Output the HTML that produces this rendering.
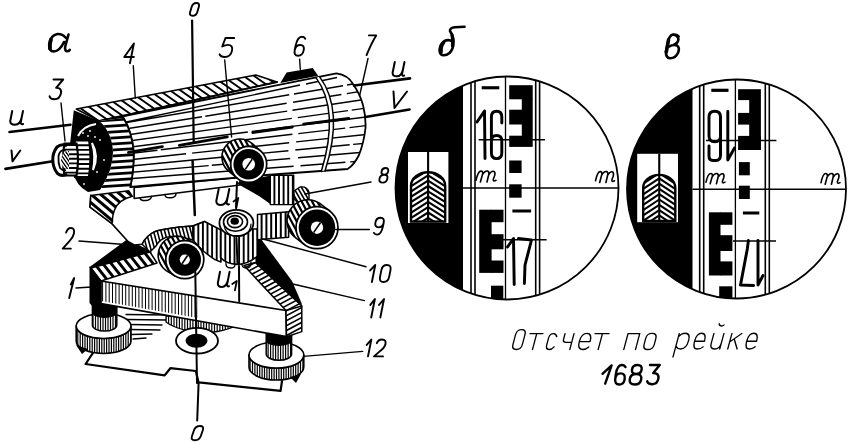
<!DOCTYPE html>
<html><head><meta charset="utf-8"><style>
html,body{margin:0;padding:0;background:#fff;width:850px;height:443px;overflow:hidden;font-family:"Liberation Sans",sans-serif}
svg{display:block}
</style></head><body>
<svg width="850" height="443" viewBox="0 0 850 443">
<rect width="850" height="443" fill="#fff"/>
<clipPath id="clip507"><circle cx="507" cy="188" r="111.5"/></clipPath>
<g clip-path="url(#clip507)">
<rect x="393.5" y="74.5" width="69.5" height="227.0" fill="#000"/>
<rect x="408" y="152" width="40.39999999999998" height="71" fill="#fff"/>
<line x1="428.1" y1="152" x2="428.1" y2="221.6" stroke="#000" stroke-width="2.1"/>
<clipPath id="bul507"><path d="M411,221.6 L411,185.9 A17.099999999999994,13.679999999999996 0 0 1 445.2,185.9 L445.2,221.6 Z"/></clipPath>
<g clip-path="url(#bul507)" stroke="#000" stroke-width="2.1">
<line x1="428.1" y1="164.8" x2="409" y2="176.8"/>
<line x1="428.1" y1="164.8" x2="447.2" y2="176.8"/>
<line x1="428.1" y1="170.10000000000002" x2="409" y2="182.10000000000002"/>
<line x1="428.1" y1="170.10000000000002" x2="447.2" y2="182.10000000000002"/>
<line x1="428.1" y1="175.40000000000003" x2="409" y2="187.40000000000003"/>
<line x1="428.1" y1="175.40000000000003" x2="447.2" y2="187.40000000000003"/>
<line x1="428.1" y1="180.70000000000005" x2="409" y2="192.70000000000005"/>
<line x1="428.1" y1="180.70000000000005" x2="447.2" y2="192.70000000000005"/>
<line x1="428.1" y1="186.00000000000006" x2="409" y2="198.00000000000006"/>
<line x1="428.1" y1="186.00000000000006" x2="447.2" y2="198.00000000000006"/>
<line x1="428.1" y1="191.30000000000007" x2="409" y2="203.30000000000007"/>
<line x1="428.1" y1="191.30000000000007" x2="447.2" y2="203.30000000000007"/>
<line x1="428.1" y1="196.60000000000008" x2="409" y2="208.60000000000008"/>
<line x1="428.1" y1="196.60000000000008" x2="447.2" y2="208.60000000000008"/>
<line x1="428.1" y1="201.9000000000001" x2="409" y2="213.9000000000001"/>
<line x1="428.1" y1="201.9000000000001" x2="447.2" y2="213.9000000000001"/>
<line x1="428.1" y1="207.2000000000001" x2="409" y2="219.2000000000001"/>
<line x1="428.1" y1="207.2000000000001" x2="447.2" y2="219.2000000000001"/>
<line x1="428.1" y1="212.5000000000001" x2="409" y2="224.5000000000001"/>
<line x1="428.1" y1="212.5000000000001" x2="447.2" y2="224.5000000000001"/>
<line x1="428.1" y1="217.80000000000013" x2="409" y2="229.80000000000013"/>
<line x1="428.1" y1="217.80000000000013" x2="447.2" y2="229.80000000000013"/>
<line x1="428.1" y1="223.10000000000014" x2="409" y2="235.10000000000014"/>
<line x1="428.1" y1="223.10000000000014" x2="447.2" y2="235.10000000000014"/>
</g>
<path d="M411,221.6 L411,185.9 A17.099999999999994,13.679999999999996 0 0 1 445.2,185.9 L445.2,221.6 Z" fill="none" stroke="#000" stroke-width="2.4"/>
<g>
</g>
<line x1="411" y1="221.6" x2="445.2" y2="221.6" stroke="#000" stroke-width="1.5"/>
<line x1="471" y1="74.5" x2="471" y2="301.5" stroke="#000" stroke-width="1.6"/>
<line x1="475" y1="74.5" x2="475" y2="301.5" stroke="#000" stroke-width="1.6"/>
<line x1="505.5" y1="74.5" x2="505.5" y2="301.5" stroke="#000" stroke-width="1.3"/>
<line x1="535.7" y1="74.5" x2="535.7" y2="301.5" stroke="#000" stroke-width="1.6"/>
<line x1="539.6" y1="74.5" x2="539.6" y2="301.5" stroke="#000" stroke-width="1.6"/>
<rect x="509.20" y="85.20" width="23.50" height="14.10" fill="#000"/>
<rect x="521.80" y="98.70" width="10.90" height="37.60" fill="#000"/>
<rect x="509.20" y="109.70" width="13.20" height="14.80" fill="#000"/>
<rect x="509.20" y="135.70" width="23.50" height="11.20" fill="#000"/>
<rect x="509.20" y="160.50" width="12.40" height="12.50" fill="#000"/>
<rect x="509.20" y="184.30" width="12.40" height="13.40" fill="#000"/>
<rect x="481.70" y="86.20" width="17.60" height="3.10" fill="#000"/>
<rect x="512.40" y="209.50" width="18.70" height="3.00" fill="#000"/>
<rect x="479.20" y="209.70" width="12.40" height="63.20" fill="#000"/>
<rect x="491.00" y="209.70" width="12.50" height="12.50" fill="#000"/>
<rect x="491.00" y="234.20" width="12.50" height="15.10" fill="#000"/>
<rect x="491.00" y="260.50" width="12.50" height="12.40" fill="#000"/>
<rect x="491.00" y="285.70" width="12.30" height="19.60" fill="#000"/>
<line x1="463" y1="188" x2="620.5" y2="188" stroke="#000" stroke-width="1.4"/>
<line x1="478.7" y1="139.7" x2="545" y2="139.7" stroke="#000" stroke-width="1.4"/>
<line x1="503" y1="239.8" x2="546.6" y2="239.8" stroke="#000" stroke-width="1.4"/>
<g fill="none" stroke="#000" stroke-width="2.95" stroke-linecap="round" stroke-linejoin="round">
<path d="M477,122 L484.5,111 L485,158.5"/>
<path d="M501.8,123 L501.8,117 Q501.8,111.3 496.6,111.3 Q491.4,111.3 491.4,117 L491.4,153 Q491.4,158.6 496.6,158.6 Q501.8,158.6 501.8,153 L501.8,141 Q501.8,135.5 496.6,135.5 Q491.4,135.5 491.4,141"/>
<path d="M507.5,247 L513.5,238.5 L514.2,284.5"/>
<path d="M518.5,238.5 L531.5,240 L525,265 L524.4,283.5"/>
</g>
<path d="M476,180.275 Q478.0,171.075 481.0,171.075 Q483.2,171.075 482.6,173.95 L480.4,182.0 M482.2,175.1 Q485.0,170.5 487.6,171.075 Q489.6,171.88 488.8,174.525 L487.0,182.0 M488.6,175.1 Q491.6,170.5 494.0,171.42 Q495.6,172.57 494.6,175.675 L493.2,179.47 Q493.2,182.0 496,180.275" fill="none" stroke="#000" stroke-width="1.6" stroke-linecap="round" stroke-linejoin="round"/>
<path d="M595.5,180.775 Q597.4,171.575 600.25,171.575 Q602.34,171.575 601.77,174.45 L599.68,182.5 M601.39,175.6 Q604.05,171.0 606.52,171.575 Q608.42,172.38 607.66,175.025 L605.95,182.5 M607.47,175.6 Q610.32,171.0 612.6,171.92 Q614.12,173.07 613.17,176.175 L611.84,179.97 Q611.84,182.5 614.5,180.775" fill="none" stroke="#000" stroke-width="1.6" stroke-linecap="round" stroke-linejoin="round"/>

</g>
<circle cx="507" cy="188" r="111.5" fill="none" stroke="#000" stroke-width="1.8"/>
<clipPath id="clip736"><circle cx="736.5" cy="189" r="109.5"/></clipPath>
<g clip-path="url(#clip736)">
<rect x="625.0" y="77.5" width="67.5" height="223.0" fill="#000"/>
<rect x="637.2" y="153.8" width="40.799999999999955" height="68.39999999999998" fill="#fff"/>
<line x1="659.25" y1="153.8" x2="659.25" y2="221" stroke="#000" stroke-width="2.1"/>
<clipPath id="bul736"><path d="M643.2,221 L643.2,187.74999999999994 A16.049999999999955,12.839999999999964 0 0 1 675.3,187.74999999999994 L675.3,221 Z"/></clipPath>
<g clip-path="url(#bul736)" stroke="#000" stroke-width="2.1">
<line x1="659.25" y1="167.7" x2="641.2" y2="179.7"/>
<line x1="659.25" y1="167.7" x2="677.3" y2="179.7"/>
<line x1="659.25" y1="173.0" x2="641.2" y2="185.0"/>
<line x1="659.25" y1="173.0" x2="677.3" y2="185.0"/>
<line x1="659.25" y1="178.3" x2="641.2" y2="190.3"/>
<line x1="659.25" y1="178.3" x2="677.3" y2="190.3"/>
<line x1="659.25" y1="183.60000000000002" x2="641.2" y2="195.60000000000002"/>
<line x1="659.25" y1="183.60000000000002" x2="677.3" y2="195.60000000000002"/>
<line x1="659.25" y1="188.90000000000003" x2="641.2" y2="200.90000000000003"/>
<line x1="659.25" y1="188.90000000000003" x2="677.3" y2="200.90000000000003"/>
<line x1="659.25" y1="194.20000000000005" x2="641.2" y2="206.20000000000005"/>
<line x1="659.25" y1="194.20000000000005" x2="677.3" y2="206.20000000000005"/>
<line x1="659.25" y1="199.50000000000006" x2="641.2" y2="211.50000000000006"/>
<line x1="659.25" y1="199.50000000000006" x2="677.3" y2="211.50000000000006"/>
<line x1="659.25" y1="204.80000000000007" x2="641.2" y2="216.80000000000007"/>
<line x1="659.25" y1="204.80000000000007" x2="677.3" y2="216.80000000000007"/>
<line x1="659.25" y1="210.10000000000008" x2="641.2" y2="222.10000000000008"/>
<line x1="659.25" y1="210.10000000000008" x2="677.3" y2="222.10000000000008"/>
<line x1="659.25" y1="215.4000000000001" x2="641.2" y2="227.4000000000001"/>
<line x1="659.25" y1="215.4000000000001" x2="677.3" y2="227.4000000000001"/>
<line x1="659.25" y1="220.7000000000001" x2="641.2" y2="232.7000000000001"/>
<line x1="659.25" y1="220.7000000000001" x2="677.3" y2="232.7000000000001"/>
</g>
<path d="M643.2,221 L643.2,187.74999999999994 A16.049999999999955,12.839999999999964 0 0 1 675.3,187.74999999999994 L675.3,221 Z" fill="none" stroke="#000" stroke-width="2.4"/>
<g>
</g>
<line x1="643.2" y1="221" x2="675.3" y2="221" stroke="#000" stroke-width="1.5"/>
<line x1="699.7" y1="77.5" x2="699.7" y2="300.5" stroke="#000" stroke-width="1.6"/>
<line x1="703.7" y1="77.5" x2="703.7" y2="300.5" stroke="#000" stroke-width="1.6"/>
<line x1="735.4" y1="77.5" x2="735.4" y2="300.5" stroke="#000" stroke-width="1.3"/>
<line x1="765.3" y1="77.5" x2="765.3" y2="300.5" stroke="#000" stroke-width="1.6"/>
<line x1="769.3" y1="77.5" x2="769.3" y2="300.5" stroke="#000" stroke-width="1.6"/>
<rect x="738.10" y="89.20" width="22.80" height="10.90" fill="#000"/>
<rect x="749.20" y="99.50" width="11.70" height="50.50" fill="#000"/>
<rect x="738.10" y="112.90" width="11.70" height="11.70" fill="#000"/>
<rect x="738.10" y="135.90" width="22.80" height="14.10" fill="#000"/>
<rect x="738.90" y="162.10" width="10.90" height="13.20" fill="#000"/>
<rect x="738.90" y="185.70" width="10.90" height="13.30" fill="#000"/>
<rect x="711.30" y="88.70" width="17.20" height="3.20" fill="#000"/>
<rect x="742.90" y="211.50" width="16.40" height="3.00" fill="#000"/>
<rect x="708.90" y="212.30" width="11.60" height="63.20" fill="#000"/>
<rect x="719.90" y="212.30" width="12.50" height="12.50" fill="#000"/>
<rect x="719.90" y="235.20" width="12.50" height="15.80" fill="#000"/>
<rect x="719.90" y="261.40" width="12.50" height="14.10" fill="#000"/>
<rect x="719.20" y="286.30" width="13.20" height="19.00" fill="#000"/>
<line x1="692.5" y1="189.3" x2="848.0" y2="189.3" stroke="#000" stroke-width="1.4"/>
<line x1="706" y1="140.5" x2="776.4" y2="140.5" stroke="#000" stroke-width="1.4"/>
<line x1="733" y1="241" x2="776" y2="241" stroke="#000" stroke-width="1.4"/>
<g fill="none" stroke="#000" stroke-width="2.95" stroke-linecap="round" stroke-linejoin="round">
<path d="M709,146 L709,156 Q709,160.5 713,160.5 L716,160.5 Q720.5,160.5 720.5,155 L720.5,117 Q720.5,111.2 714.8,111.2 Q709,111.2 709,117 L709,136 Q709,141.8 714.8,141.8 Q720.5,141.8 720.5,136"/>
<path d="M727.8,111.5 L727.8,160 L734.5,148"/>
<path d="M748.4,240.5 L747.3,249 L740.5,285 L753.6,285.5"/>
<path d="M758,240.5 L758,285 L763,275.5"/>
</g>
<path d="M706,182.18 Q707.9,173.54 710.75,173.54 Q712.84,173.54 712.27,176.24 L710.18,183.8 M711.89,177.32 Q714.55,173.0 717.02,173.54 Q718.92,174.296 718.16,176.78 L716.45,183.8 M717.97,177.32 Q720.82,173.0 723.1,173.864 Q724.62,174.944 723.67,177.86 L722.34,181.424 Q722.34,183.8 725,182.18" fill="none" stroke="#000" stroke-width="1.6" stroke-linecap="round" stroke-linejoin="round"/>
<path d="M821,182.605 Q822.9,173.565 825.75,173.565 Q827.84,173.565 827.27,176.39 L825.18,184.3 M826.89,177.52 Q829.55,173.0 832.02,173.565 Q833.92,174.356 833.16,176.955 L831.45,184.3 M832.97,177.52 Q835.82,173.0 838.1,173.904 Q839.62,175.034 838.67,178.085 L837.34,181.814 Q837.34,184.3 840,182.605" fill="none" stroke="#000" stroke-width="1.6" stroke-linecap="round" stroke-linejoin="round"/>

</g>
<circle cx="736.5" cy="189" r="109.5" fill="none" stroke="#000" stroke-width="1.8"/>
<g transform="translate(0,349.5) skewX(-15) translate(0,-349.5)" fill="none" stroke="#000" stroke-width="1.35" stroke-linecap="round" stroke-linejoin="round">
<path d="M511.6,334.6 Q511.6,329.6 516.3,329.6 Q521,329.6 521,334.6 L521,344.5 Q521,349.5 516.3,349.5 Q511.6,349.5 511.6,344.5 Z"/>
<path d="M525.7,333.6 L538.7,333.6 M532.5,333.6 L532.5,349.5"/>
<path d="M553.3,336.6 Q551.8,333.6 549.2,333.6 Q545.5,333.6 545.5,338 L545.5,345 Q545.5,349.5 549.2,349.5 Q551.8,349.5 553.3,346.8"/>
<path d="M560.8,333.6 L560.8,339.2 Q560.8,342.3 564,342.3 L569.8,342.3 M569.8,333.6 L569.8,349.5"/>
<path d="M577.2,341.6 L588,341.6 Q588,333.4 582.6,333.4 Q577.2,333.4 577.2,341.6 Q577.2,349.5 582.6,349.5 Q586.2,349.5 588,347"/>
<path d="M590.8,333.6 L604.8,333.6 M598.2,333.6 L598.2,349.5"/>
<path d="M623.8,349.5 L623.8,333.6 L635.5,333.6 L635.5,349.5"/>
<path d="M647.8,333.4 Q652.9,333.4 652.9,338.5 L652.9,344.4 Q652.9,349.5 647.8,349.5 Q642.7,349.5 642.7,344.4 L642.7,338.5 Q642.7,333.4 647.8,333.4 Z"/>
<path d="M675,357 L675,333.6 M675,337 Q677,333.2 681,333.2 Q686.2,333.2 686.2,340.5 Q686.2,349 680.5,349 Q677,349 675,346"/>
<path d="M692.4,341.2 L702.3,341.2 Q702.3,333.2 697.3,333.2 Q692.3,333.2 692.3,341.2 Q692.3,349 697.3,349 Q700.6,349 702.3,346.8"/>
<path d="M709.6,333.4 L709.6,343.6 Q709.6,349 714.5,349 Q719.6,349 719.6,343 M719.6,333.4 L719.6,349"/>
<path d="M712.2,323.8 Q714.5,327.5 717.5,325"/>
<path d="M727.6,333.4 L727.6,349 M727.6,342 L737.5,333.4 M731.4,339 L737,349"/>
<path d="M744.5,341.2 L754.4,341.2 Q754.4,333.2 749.4,333.2 Q744.4,333.2 744.4,341.2 Q744.4,349 749.4,349 Q752.6,349 754.4,346.8"/>
</g>
<path d="M602.5,373.8 L611.6,365.4 L605.2,383.6" fill="none" stroke="#000" stroke-width="2.4" stroke-linecap="round" stroke-linejoin="round"/>
<path d="M 625.49,366.95 Q 624.13,365.00 621.77,365.00 Q 617.03,365.00 615.77,374.75 L 615.26,378.65 Q 614.50,384.50 619.23,384.50 Q 623.97,384.50 624.67,379.04 Q 625.41,373.38 620.68,373.38 Q 615.94,373.38 615.26,378.65" fill="none" stroke="#000" stroke-width="2.4" stroke-linecap="round" stroke-linejoin="round"/>
<path d="M 636.21,373.97 Q 631.39,373.97 632.02,369.49 Q 632.65,365.00 637.47,365.00 Q 642.28,365.00 641.65,369.49 Q 641.03,373.97 636.21,373.97 Q 630.47,373.97 629.74,379.24 Q 629.00,384.50 634.74,384.50 Q 640.47,384.50 641.21,379.24 Q 641.94,373.97 636.21,373.97 Z" fill="none" stroke="#000" stroke-width="2.4" stroke-linecap="round" stroke-linejoin="round"/>
<path d="M 650.03,365.00 L 659.76,365.00 L 653.22,373.06 Q 659.17,373.06 658.42,378.44 Q 657.61,384.20 652.21,384.20 Q 648.10,384.20 647.20,381.32" fill="none" stroke="#000" stroke-width="2.4" stroke-linecap="round" stroke-linejoin="round"/>
<path d="M464.5,26.8 L455,27.3 Q449.5,27.8 450,31 Q453.5,36 453.5,42 Q453.5,49 449.5,53 Q446.5,55.5 443,55.2 Q439.3,54.5 439.6,49.5 Q440.3,43.5 444.5,41 Q448.5,39 452.8,41.5" fill="none" stroke="#000" stroke-width="2.6" stroke-linecap="round" stroke-linejoin="round"/>
<path d="M441,52 Q440.6,46 443.5,42.5" fill="none" stroke="#000" stroke-width="3.6" stroke-linecap="round" stroke-linejoin="round"/>
<path d="M452,35 Q453.3,40 452.5,46" fill="none" stroke="#000" stroke-width="3.2" stroke-linecap="round" stroke-linejoin="round"/>
<path d="M678.6,36.5 Q676.5,34.2 673,34.6 Q669.5,35.5 668.2,41 L666,51.5 Q665.6,57.8 670,58.2 Q675.5,58.4 678.2,52.5 Q680,47.5 677,45.5 Q673.5,44 669,46.5 M673,34.6 Q678,35 678.4,39 Q678.5,43 673.5,45" fill="none" stroke="#000" stroke-width="2.6" stroke-linecap="round" stroke-linejoin="round"/>
<path d="M668.5,40 L666.3,52" fill="none" stroke="#000" stroke-width="3.6" stroke-linecap="round" stroke-linejoin="round"/>
<path d="M65.5,37.5 Q62.5,33.8 57.5,34 Q50.5,35 49.2,44.5 Q48.8,51.5 53.8,51.5 Q59.5,51.5 64,42 M68.5,34.5 L65.2,46.5 Q64.5,51.3 67.5,51.3 Q69,51.2 69.8,49.8" fill="none" stroke="#000" stroke-width="2.6" stroke-linecap="round" stroke-linejoin="round"/>
<path d="M51,39.5 Q49.3,44.5 50,48.5" fill="none" stroke="#000" stroke-width="3.8" stroke-linecap="round" stroke-linejoin="round"/>
<path d="M94,351.3 L85.6,364 L164.7,375.3 L170.4,368.2 L195.8,371 L198.6,382.4 L280.6,390.8 L282,381" fill="none" stroke="#000" stroke-width="2.2" stroke-linejoin="round" stroke-linecap="round"/>
<line x1="126" y1="314.5" x2="168" y2="315" stroke="#000" stroke-width="1.3" stroke-linecap="round"/>
<line x1="127" y1="319.5" x2="166" y2="320" stroke="#000" stroke-width="1.3" stroke-linecap="round"/>
<line x1="128" y1="324.5" x2="162" y2="325" stroke="#000" stroke-width="1.3" stroke-linecap="round"/>
<line x1="130" y1="329.5" x2="160" y2="330" stroke="#000" stroke-width="1.3" stroke-linecap="round"/>
<line x1="131" y1="334.5" x2="152" y2="334" stroke="#000" stroke-width="1.3" stroke-linecap="round"/>
<line x1="133" y1="339" x2="146" y2="338" stroke="#000" stroke-width="1.3" stroke-linecap="round"/>
<clipPath id="c1"><path d="M166,316 L242,321 Q232,331 205,333 Q178,331 166,322 Z"/></clipPath>
<path d="M166,316 L242,321 Q232,331 205,333 Q178,331 166,322 Z" fill="#fff"/>
<path clip-path="url(#c1)" d="M249.6,277.9 L249.6,369.1 M246.9,277.9 L246.9,369.1 M244.2,277.9 L244.2,369.1 M241.5,277.9 L241.5,369.1 M238.8,277.9 L238.8,369.1 M236.1,277.9 L236.1,369.1 M233.4,277.9 L233.4,369.1 M230.7,277.9 L230.7,369.1 M228.0,277.9 L228.0,369.1 M225.3,277.9 L225.3,369.1 M222.6,277.9 L222.6,369.1 M219.9,277.9 L219.9,369.1 M217.2,277.9 L217.2,369.1 M214.5,277.9 L214.5,369.1 M211.8,277.9 L211.8,369.1 M209.1,277.9 L209.1,369.1 M206.4,277.9 L206.4,369.1 M203.7,277.9 L203.7,369.1 M201.0,277.9 L201.0,369.1 M198.3,277.9 L198.3,369.1 M195.6,277.9 L195.6,369.1 M192.9,277.9 L192.9,369.1 M190.2,277.9 L190.2,369.1 M187.5,277.9 L187.5,369.1 M184.8,277.9 L184.8,369.1 M182.1,277.9 L182.1,369.1 M179.4,277.9 L179.4,369.1 M176.7,277.9 L176.7,369.1 M174.0,277.9 L174.0,369.1 M171.3,277.9 L171.3,369.1 M168.6,277.9 L168.6,369.1 M165.9,277.9 L165.9,369.1 M163.2,277.9 L163.2,369.1 M160.5,277.9 L160.5,369.1" stroke="#000" stroke-width="1.2" fill="none"/>
<path d="M166,316 L242,321 Q232,331 205,333 Q178,331 166,322 Z" fill="none" stroke="#000" stroke-width="1.2" stroke-linejoin="round"/>
<ellipse cx="197" cy="340.7" rx="21" ry="12.8" fill="#fff" stroke="#000" stroke-width="1.8"/>
<ellipse cx="196.5" cy="340.7" rx="11" ry="7" fill="#000"/>
<clipPath id="c2"><path d="M76.19999999999999,326 A27.4,12.5 0 0 0 131.0,326 L131.0,341 A27.4,12.5 0 0 1 76.19999999999999,341 Z"/></clipPath>
<path d="M76.19999999999999,326 A27.4,12.5 0 0 0 131.0,326 L131.0,341 A27.4,12.5 0 0 1 76.19999999999999,341 Z" fill="#fff"/>
<path clip-path="url(#c2)" d="M142.6,295.0 L142.6,373.0 M140.2,295.0 L140.2,373.0 M137.8,295.0 L137.8,373.0 M135.4,295.0 L135.4,373.0 M133.0,295.0 L133.0,373.0 M130.6,295.0 L130.6,373.0 M128.2,295.0 L128.2,373.0 M125.8,295.0 L125.8,373.0 M123.4,295.0 L123.4,373.0 M121.0,295.0 L121.0,373.0 M118.6,295.0 L118.6,373.0 M116.2,295.0 L116.2,373.0 M113.8,295.0 L113.8,373.0 M111.4,295.0 L111.4,373.0 M109.0,295.0 L109.0,373.0 M106.6,295.0 L106.6,373.0 M104.2,295.0 L104.2,373.0 M101.8,295.0 L101.8,373.0 M99.4,295.0 L99.4,373.0 M97.0,295.0 L97.0,373.0 M94.6,295.0 L94.6,373.0 M92.2,295.0 L92.2,373.0 M89.8,295.0 L89.8,373.0 M87.4,295.0 L87.4,373.0 M85.0,295.0 L85.0,373.0 M82.6,295.0 L82.6,373.0 M80.2,295.0 L80.2,373.0 M77.8,295.0 L77.8,373.0 M75.4,295.0 L75.4,373.0 M73.0,295.0 L73.0,373.0 M70.6,295.0 L70.6,373.0 M68.2,295.0 L68.2,373.0 M65.8,295.0 L65.8,373.0" stroke="#000" stroke-width="1.2" fill="none"/>
<path d="M76.19999999999999,326 A27.4,12.5 0 0 0 131.0,326 L131.0,341 A27.4,12.5 0 0 1 76.19999999999999,341 Z" fill="none" stroke="#000" stroke-width="1.6" stroke-linejoin="round"/>
<ellipse cx="103.6" cy="326" rx="27.4" ry="12.5" fill="#fff" stroke="#000" stroke-width="1.6"/>
<clipPath id="c3"><path d="M92.4,293 L116.8,293 L116.8,325 A12.199999999999996,6.099999999999998 0 0 1 92.4,325 Z"/></clipPath>
<path d="M92.4,293 L116.8,293 L116.8,325 A12.199999999999996,6.099999999999998 0 0 1 92.4,325 Z" fill="#fff"/>
<path clip-path="url(#c3)" d="M133.0,284.1 L133.0,341.0 M130.5,284.1 L130.5,341.0 M128.0,284.1 L128.0,341.0 M125.5,284.1 L125.5,341.0 M123.0,284.1 L123.0,341.0 M120.5,284.1 L120.5,341.0 M118.0,284.1 L118.0,341.0 M115.5,284.1 L115.5,341.0 M113.0,284.1 L113.0,341.0 M110.5,284.1 L110.5,341.0 M108.0,284.1 L108.0,341.0 M105.5,284.1 L105.5,341.0 M103.0,284.1 L103.0,341.0 M100.5,284.1 L100.5,341.0 M98.0,284.1 L98.0,341.0 M95.5,284.1 L95.5,341.0 M93.0,284.1 L93.0,341.0 M90.5,284.1 L90.5,341.0 M88.0,284.1 L88.0,341.0 M85.5,284.1 L85.5,341.0 M83.0,284.1 L83.0,341.0 M80.5,284.1 L80.5,341.0 M78.0,284.1 L78.0,341.0" stroke="#000" stroke-width="1.2" fill="none"/>
<path d="M92.4,293 L116.8,293 L116.8,325 A12.199999999999996,6.099999999999998 0 0 1 92.4,325 Z" fill="none" stroke="#000" stroke-width="1.5" stroke-linejoin="round"/>
<path d="M92.4,293 L116.8,293 L116.8,313 A12.199999999999996,4.879999999999998 0 0 1 92.4,313 Z" fill="#000"/>
<path d="M76,345 L82,354 L88,349 Z" fill="#000"/>
<clipPath id="c4"><path d="M248.99999999999997,355 A27.4,13 0 0 0 303.79999999999995,355 L303.79999999999995,367 A27.4,13 0 0 1 248.99999999999997,367 Z"/></clipPath>
<path d="M248.99999999999997,355 A27.4,13 0 0 0 303.79999999999995,355 L303.79999999999995,367 A27.4,13 0 0 1 248.99999999999997,367 Z" fill="#fff"/>
<path clip-path="url(#c4)" d="M314.9,323.0 L314.9,400.0 M312.5,323.0 L312.5,400.0 M310.1,323.0 L310.1,400.0 M307.7,323.0 L307.7,400.0 M305.3,323.0 L305.3,400.0 M302.9,323.0 L302.9,400.0 M300.5,323.0 L300.5,400.0 M298.1,323.0 L298.1,400.0 M295.7,323.0 L295.7,400.0 M293.3,323.0 L293.3,400.0 M290.9,323.0 L290.9,400.0 M288.5,323.0 L288.5,400.0 M286.1,323.0 L286.1,400.0 M283.7,323.0 L283.7,400.0 M281.3,323.0 L281.3,400.0 M278.9,323.0 L278.9,400.0 M276.5,323.0 L276.5,400.0 M274.1,323.0 L274.1,400.0 M271.7,323.0 L271.7,400.0 M269.3,323.0 L269.3,400.0 M266.9,323.0 L266.9,400.0 M264.5,323.0 L264.5,400.0 M262.1,323.0 L262.1,400.0 M259.7,323.0 L259.7,400.0 M257.3,323.0 L257.3,400.0 M254.9,323.0 L254.9,400.0 M252.5,323.0 L252.5,400.0 M250.1,323.0 L250.1,400.0 M247.7,323.0 L247.7,400.0 M245.3,323.0 L245.3,400.0 M242.9,323.0 L242.9,400.0 M240.5,323.0 L240.5,400.0 M238.1,323.0 L238.1,400.0" stroke="#000" stroke-width="1.2" fill="none"/>
<path d="M248.99999999999997,355 A27.4,13 0 0 0 303.79999999999995,355 L303.79999999999995,367 A27.4,13 0 0 1 248.99999999999997,367 Z" fill="none" stroke="#000" stroke-width="1.6" stroke-linejoin="round"/>
<ellipse cx="276.4" cy="355" rx="27.4" ry="13" fill="#fff" stroke="#000" stroke-width="1.6"/>
<clipPath id="c5"><path d="M266.2,321 L291.6,321 L291.6,354 A12.700000000000017,6.3500000000000085 0 0 1 266.2,354 Z"/></clipPath>
<path d="M266.2,321 L291.6,321 L291.6,354 A12.700000000000017,6.3500000000000085 0 0 1 266.2,354 Z" fill="#fff"/>
<path clip-path="url(#c5)" d="M308.1,312.0 L308.1,370.4 M305.6,312.0 L305.6,370.4 M303.1,312.0 L303.1,370.4 M300.6,312.0 L300.6,370.4 M298.1,312.0 L298.1,370.4 M295.6,312.0 L295.6,370.4 M293.1,312.0 L293.1,370.4 M290.6,312.0 L290.6,370.4 M288.1,312.0 L288.1,370.4 M285.6,312.0 L285.6,370.4 M283.1,312.0 L283.1,370.4 M280.6,312.0 L280.6,370.4 M278.1,312.0 L278.1,370.4 M275.6,312.0 L275.6,370.4 M273.1,312.0 L273.1,370.4 M270.6,312.0 L270.6,370.4 M268.1,312.0 L268.1,370.4 M265.6,312.0 L265.6,370.4 M263.1,312.0 L263.1,370.4 M260.6,312.0 L260.6,370.4 M258.1,312.0 L258.1,370.4 M255.6,312.0 L255.6,370.4 M253.1,312.0 L253.1,370.4 M250.6,312.0 L250.6,370.4" stroke="#000" stroke-width="1.2" fill="none"/>
<path d="M266.2,321 L291.6,321 L291.6,354 A12.700000000000017,6.3500000000000085 0 0 1 266.2,354 Z" fill="none" stroke="#000" stroke-width="1.5" stroke-linejoin="round"/>
<path d="M266.2,321 L291.6,321 L291.6,341 A12.700000000000017,5.080000000000007 0 0 1 266.2,341 Z" fill="#000"/>
<path d="M290,377 L296,383 L301,374 Z" fill="#000"/>
<path d="M91,268 L150,252 L245,262 L300,305 L286,310 L101,281 Z" fill="#fff"/>
<path d="M101,281 L286,310.5 L286.5,336.7 L101,303.6 Z" fill="#fff"/>
<clipPath id="c6"><path d="M101,281 L198,296.5 L198,318 L101,301 Z"/></clipPath>
<path clip-path="url(#c6)" d="M208.2,242.8 L208.2,359.2 M204.9,242.8 L204.9,359.2 M201.6,242.8 L201.6,359.2 M198.3,242.8 L198.3,359.2 M195.0,242.8 L195.0,359.2 M191.7,242.8 L191.7,359.2 M188.4,242.8 L188.4,359.2 M185.1,242.8 L185.1,359.2 M181.8,242.8 L181.8,359.2 M178.5,242.8 L178.5,359.2 M175.2,242.8 L175.2,359.2 M171.9,242.8 L171.9,359.2 M168.6,242.8 L168.6,359.2 M165.3,242.8 L165.3,359.2 M162.0,242.8 L162.0,359.2 M158.7,242.8 L158.7,359.2 M155.4,242.8 L155.4,359.2 M152.1,242.8 L152.1,359.2 M148.8,242.8 L148.8,359.2 M145.5,242.8 L145.5,359.2 M142.2,242.8 L142.2,359.2 M138.9,242.8 L138.9,359.2 M135.6,242.8 L135.6,359.2 M132.3,242.8 L132.3,359.2 M129.0,242.8 L129.0,359.2 M125.7,242.8 L125.7,359.2 M122.4,242.8 L122.4,359.2 M119.1,242.8 L119.1,359.2 M115.8,242.8 L115.8,359.2 M112.5,242.8 L112.5,359.2 M109.2,242.8 L109.2,359.2 M105.9,242.8 L105.9,359.2 M102.6,242.8 L102.6,359.2 M99.3,242.8 L99.3,359.2 M96.0,242.8 L96.0,359.2 M92.7,242.8 L92.7,359.2" stroke="#000" stroke-width="1.0" fill="none"/>
<path d="M101,281 L286,310.5 L286.5,336.7 L101,303.6 Z" fill="none" stroke="#000" stroke-width="1.7" stroke-linejoin="round" stroke-linecap="round"/>
<path d="M89.5,266 L101,281 L101,304 L95,309 L89.5,303 Z" fill="#000"/>
<path d="M127,239.5 L89,267.5 L93,270 L152,253 L147,249 Z" fill="#000"/>
<clipPath id="c7"><path d="M91,268 L150,252 L157,263 L101,281 Z"/></clipPath>
<path d="M91,268 L150,252 L157,263 L101,281 Z" fill="#fff"/>
<path clip-path="url(#c7)" d="M131.6,203.9 L186.1,273.6 M126.4,208.0 L180.9,277.7 M121.2,212.0 L175.7,281.8 M116.0,216.1 L170.5,285.8 M110.8,220.1 L165.3,289.9 M105.6,224.2 L160.1,293.9 M100.4,228.3 L154.9,298.0 M95.2,232.3 L149.7,302.1 M90.0,236.4 L144.5,306.1 M84.8,240.5 L139.3,310.2 M79.6,244.5 L134.1,314.3 M74.4,248.6 L128.9,318.3 M69.2,252.6 L123.7,322.4 M64.0,256.7 L118.5,326.5" stroke="#000" stroke-width="2.9" fill="none"/>
<path d="M91,268 L150,252 L157,263 L101,281 Z" fill="none" stroke="#000" stroke-width="1.5" stroke-linejoin="round"/>
<path d="M255,237 L261,239 L292,281 L301.5,303 L301.8,306 L255.5,262.6 Z" fill="#000"/>
<clipPath id="c8"><path d="M244,265.6 L255.5,262.6 L301.8,306 L301.8,331.6 L286.5,336.7 L286,310.5 Z"/></clipPath>
<path d="M244,265.6 L255.5,262.6 L301.8,306 L301.8,331.6 L286.5,336.7 L286,310.5 Z" fill="#fff"/>
<path clip-path="url(#c8)" d="M200.2,276.7 L295.3,226.2 M202.3,280.6 L297.3,230.1 M204.3,284.5 L299.4,234.0 M206.4,288.4 L301.5,237.9 M208.5,292.3 L303.5,241.8 M210.5,296.2 L305.6,245.6 M212.6,300.1 L307.6,249.5 M214.7,303.9 L309.7,253.4 M216.7,307.8 L311.8,257.3 M218.8,311.7 L313.8,261.2 M220.9,315.6 L315.9,265.1 M222.9,319.5 L318.0,268.9 M225.0,323.4 L320.0,272.8 M227.1,327.3 L322.1,276.7 M229.1,331.1 L324.2,280.6 M231.2,335.0 L326.2,284.5 M233.3,338.9 L328.3,288.4 M235.3,342.8 L330.4,292.3 M237.4,346.7 L332.4,296.1 M239.5,350.6 L334.5,300.0 M241.5,354.4 L336.6,303.9 M243.6,358.3 L338.6,307.8 M245.7,362.2 L340.7,311.7 M247.7,366.1 L342.8,315.6 M249.8,370.0 L344.8,319.5" stroke="#000" stroke-width="1.6" fill="none"/>
<path d="M244,265.6 L255.5,262.6 L301.8,306 L301.8,331.6 L286.5,336.7 L286,310.5 Z" fill="none" stroke="#000" stroke-width="1.5" stroke-linejoin="round"/>
<line x1="286" y1="310.5" x2="301.8" y2="306" stroke="#000" stroke-width="1.4" stroke-linecap="round"/>
<path d="M90.8,195.4 L128.8,190.8 L236,186 L262,190 L262,214 L252,213 L236,210 L221,230 L204.6,221.5 L192.9,226 Q165,228 154.7,231.7 Q146,236 142.2,244.2 L134.2,245 L128,241.5 L111.6,223.4 L90,207 Z" fill="#fff"/>
<path d="M204.6,221.5 L192.9,226 Q165,228 154.7,231.7 Q146,236 142.2,244.2 L134.2,245 L128,241.5 L111.6,223.4 L90,207 L90.8,195.4" fill="none" stroke="#000" stroke-width="1.6" stroke-linejoin="round" stroke-linecap="round"/>
<clipPath id="c9"><path d="M90.8,195.4 L128.8,190.8 L132.4,196.3 Q118,200 114.5,210 Q112,217 112.5,221.6 L111.6,223.4 L90,207 Z"/></clipPath>
<path d="M90.8,195.4 L128.8,190.8 L132.4,196.3 Q118,200 114.5,210 Q112,217 112.5,221.6 L111.6,223.4 L90,207 Z" fill="#fff"/>
<path clip-path="url(#c9)" d="M107.3,158.8 L159.7,202.8 M103.2,163.6 L155.7,207.6 M99.2,168.4 L151.6,212.4 M95.1,173.3 L147.6,217.3 M91.1,178.1 L143.5,222.1 M87.0,182.9 L139.5,226.9 M83.0,187.7 L135.4,231.7 M78.9,192.6 L131.4,236.6 M74.9,197.4 L127.3,241.4 M70.8,202.2 L123.3,246.2 M66.8,207.1 L119.2,251.0" stroke="#000" stroke-width="3.0" fill="none"/>
<path d="M90.8,195.4 L128.8,190.8 L132.4,196.3 Q118,200 114.5,210 Q112,217 112.5,221.6 L111.6,223.4 L90,207 Z" fill="none" stroke="#000" stroke-width="1.5" stroke-linejoin="round"/>
<path d="M134.2,187.5 L240,177.5 L240,185 L134.2,198.5 Z" fill="#fff" stroke="#000" stroke-width="1.7" stroke-linejoin="round" stroke-linecap="round"/>
<path d="M140,197.8 Q140.5,201 146,200.5 Q151,200 151.5,196.5 M165,195 Q165.5,198.3 171,197.8 Q176,197.3 176,193.8" fill="none" stroke="#000" stroke-width="1.5" stroke-linejoin="round" stroke-linecap="round"/>
<clipPath id="c10"><path d="M142.2,244.2 Q146,236 154.7,231.7 Q165,228 192.9,226 L192.9,240 Q180,236 170,236.5 Q160,238 156,246 L150,252 Z"/></clipPath>
<path d="M142.2,244.2 Q146,236 154.7,231.7 Q165,228 192.9,226 L192.9,240 Q180,236 170,236.5 Q160,238 156,246 L150,252 Z" fill="#fff"/>
<path clip-path="url(#c10)" d="M192.5,195.7 L210.8,264.0 M189.0,196.7 L207.3,264.9 M185.5,197.6 L203.8,265.8 M182.0,198.5 L200.3,266.8 M178.6,199.5 L196.9,267.7 M175.1,200.4 L193.4,268.6 M171.6,201.3 L189.9,269.6 M168.1,202.3 L186.4,270.5 M164.7,203.2 L182.9,271.4 M161.2,204.1 L179.5,272.4 M157.7,205.1 L176.0,273.3 M154.2,206.0 L172.5,274.2 M150.8,206.9 L169.0,275.2 M147.3,207.8 L165.6,276.1 M143.8,208.8 L162.1,277.0 M140.3,209.7 L158.6,278.0 M136.8,210.6 L155.1,278.9 M133.4,211.6 L151.6,279.8 M129.9,212.5 L148.2,280.7 M126.4,213.4 L144.7,281.7" stroke="#000" stroke-width="1.6" fill="none"/>
<path d="M142.2,244.2 Q146,236 154.7,231.7 Q165,228 192.9,226 L192.9,240 Q180,236 170,236.5 Q160,238 156,246 L150,252 Z" fill="none" stroke="#000" stroke-width="1.5" stroke-linejoin="round"/>
<clipPath id="c11"><path d="M192.9,226 L204.6,221.5 L221,230 L221,262 L214.9,259.6 Q208,255 203,250.8 Q198,246 192.9,240 Z"/></clipPath>
<path d="M192.9,226 L204.6,221.5 L221,230 L221,262 L214.9,259.6 Q208,255 203,250.8 Q198,246 192.9,240 Z" fill="#fff"/>
<path clip-path="url(#c11)" d="M239.7,205.3 L239.7,272.7 M235.1,205.3 L235.1,272.7 M230.5,205.3 L230.5,272.7 M225.9,205.3 L225.9,272.7 M221.3,205.3 L221.3,272.7 M216.7,205.3 L216.7,272.7 M212.1,205.3 L212.1,272.7 M207.5,205.3 L207.5,272.7 M202.9,205.3 L202.9,272.7 M198.3,205.3 L198.3,272.7 M193.7,205.3 L193.7,272.7 M189.1,205.3 L189.1,272.7 M184.5,205.3 L184.5,272.7 M179.9,205.3 L179.9,272.7 M175.3,205.3 L175.3,272.7" stroke="#000" stroke-width="1.9" fill="none"/>
<path d="M192.9,226 L204.6,221.5 L221,230 L221,262 L214.9,259.6 Q208,255 203,250.8 Q198,246 192.9,240 Z" fill="none" stroke="#000" stroke-width="1.5" stroke-linejoin="round"/>
<clipPath id="c12"><path d="M166.5,270.9 A19,19 0 0 1 185.5,238.1 L194.3,243.2 A19,19 0 0 0 175.3,276.0 Z"/></clipPath>
<path d="M166.5,270.9 A19,19 0 0 1 185.5,238.1 L194.3,243.2 A19,19 0 0 0 175.3,276.0 Z" fill="#fff"/>
<path clip-path="url(#c12)" d="M196.4,204.8 L232.7,273.0 M192.3,207.0 L228.6,275.2 M188.3,209.1 L224.5,277.3 M184.2,211.3 L220.5,279.5 M180.1,213.4 L216.4,281.7 M176.1,215.6 L212.3,283.8 M172.0,217.8 L208.3,286.0 M167.9,219.9 L204.2,288.1 M163.9,222.1 L200.2,290.3 M159.8,224.2 L196.1,292.5 M155.8,226.4 L192.0,294.6 M151.7,228.6 L188.0,296.8 M147.6,230.7 L183.9,298.9 M143.6,232.9 L179.9,301.1 M139.5,235.0 L175.8,303.3 M135.5,237.2 L171.7,305.4 M131.4,239.3 L167.7,307.6" stroke="#000" stroke-width="2.2" fill="none"/>
<path d="M166.5,270.9 A19,19 0 0 1 185.5,238.1 L194.3,243.2 A19,19 0 0 0 175.3,276.0 Z" fill="none" stroke="#000" stroke-width="1.6" stroke-linejoin="round"/>
<circle cx="184.8" cy="259.6" r="19" fill="#fff" stroke="#000" stroke-width="1.7"/>
<circle cx="184.8" cy="259.6" r="16.2" fill="#000"/>
<circle cx="184.8" cy="259.6" r="5.1" fill="#fff"/>
<line x1="181.995" y1="263.68" x2="187.60500000000002" y2="255.52" stroke="#000" stroke-width="1.6"/>
<clipPath id="c13"><path d="M220.5,229 L257.5,229 L257.5,256 Q248,264.4 237.2,264.4 Q226,264 220.5,257.6 Z"/></clipPath>
<path d="M220.5,229 L257.5,229 L257.5,256 Q248,264.4 237.2,264.4 Q226,264 220.5,257.6 Z" fill="#fff"/>
<path clip-path="url(#c13)" d="M271.3,213.7 L271.3,278.3 M266.7,213.7 L266.7,278.3 M262.1,213.7 L262.1,278.3 M257.5,213.7 L257.5,278.3 M252.9,213.7 L252.9,278.3 M248.3,213.7 L248.3,278.3 M243.7,213.7 L243.7,278.3 M239.1,213.7 L239.1,278.3 M234.5,213.7 L234.5,278.3 M229.9,213.7 L229.9,278.3 M225.3,213.7 L225.3,278.3 M220.7,213.7 L220.7,278.3 M216.1,213.7 L216.1,278.3 M211.5,213.7 L211.5,278.3 M206.9,213.7 L206.9,278.3" stroke="#000" stroke-width="1.9" fill="none"/>
<path d="M220.5,229 L257.5,229 L257.5,256 Q248,264.4 237.2,264.4 Q226,264 220.5,257.6 Z" fill="none" stroke="#000" stroke-width="1.6" stroke-linejoin="round"/>
<path d="M226,262 Q225,268 231,268 Q235,268 235,264.5 M242,264.5 Q242,268 247,268 Q251,268 251,262" fill="none" stroke="#000" stroke-width="1.3" stroke-linejoin="round" stroke-linecap="round"/>
<ellipse cx="236.4" cy="222.9" rx="17" ry="13" fill="#fff" stroke="#000" stroke-width="1.8"/>
<path d="M224,224 Q225,236 238,236.5 Q250,236 251,224" fill="none" stroke="#000" stroke-width="1.2" stroke-linejoin="round" stroke-linecap="round"/>
<ellipse cx="235.5" cy="222" rx="12" ry="9.2" fill="none" stroke="#000" stroke-width="1.6"/>
<ellipse cx="235" cy="221.6" rx="7.6" ry="6" fill="none" stroke="#000" stroke-width="1.6"/>
<ellipse cx="234.7" cy="221.2" rx="4.2" ry="3.6" fill="#000"/>
<clipPath id="c14"><path d="M257.5,214.5 L288.6,211.7 L288.6,237.2 L257.5,239.8 Z"/></clipPath>
<path d="M257.5,214.5 L288.6,211.7 L288.6,237.2 L257.5,239.8 Z" fill="#fff"/>
<path clip-path="url(#c14)" d="M300.0,198.5 L300.0,252.5 M295.2,198.5 L295.2,252.5 M290.4,198.5 L290.4,252.5 M285.6,198.5 L285.6,252.5 M280.8,198.5 L280.8,252.5 M276.0,198.5 L276.0,252.5 M271.2,198.5 L271.2,252.5 M266.4,198.5 L266.4,252.5 M261.6,198.5 L261.6,252.5 M256.8,198.5 L256.8,252.5 M252.0,198.5 L252.0,252.5 M247.2,198.5 L247.2,252.5" stroke="#000" stroke-width="2.0" fill="none"/>
<path d="M257.5,214.5 L288.6,211.7 L288.6,237.2 L257.5,239.8 Z" fill="none" stroke="#000" stroke-width="1.5" stroke-linejoin="round"/>
<path d="M236,183 L270.3,175.5 L270.3,204 L259,196 Z" fill="#000"/>
<clipPath id="c15"><path d="M270.3,175.2 L293.7,175.2 L293.7,204.6 L270.3,204.6 Z"/></clipPath>
<path d="M270.3,175.2 L293.7,175.2 L293.7,204.6 L270.3,204.6 Z" fill="#fff"/>
<path clip-path="url(#c15)" d="M306.6,165.4 L306.6,214.6 M302.0,165.4 L302.0,214.6 M297.4,165.4 L297.4,214.6 M292.8,165.4 L292.8,214.6 M288.2,165.4 L288.2,214.6 M283.6,165.4 L283.6,214.6 M279.0,165.4 L279.0,214.6 M274.4,165.4 L274.4,214.6 M269.8,165.4 L269.8,214.6 M265.2,165.4 L265.2,214.6 M260.6,165.4 L260.6,214.6" stroke="#000" stroke-width="1.9" fill="none"/>
<path d="M270.3,175.2 L293.7,175.2 L293.7,204.6 L270.3,204.6 Z" fill="none" stroke="#000" stroke-width="1.4" stroke-linejoin="round"/>
<clipPath id="c16"><path d="M294,191 L300,187 Q307,186 309,192 L309,199 L300,203 Q294,201 294,196 Z"/></clipPath>
<path d="M294,191 L300,187 Q307,186 309,192 L309,199 L300,203 Q294,201 294,196 Z" fill="#fff"/>
<path clip-path="url(#c16)" d="M308.0,170.7 L325.8,201.5 M305.0,172.4 L322.8,203.3 M302.0,174.2 L319.7,205.0 M298.9,175.9 L316.7,206.8 M295.9,177.7 L313.7,208.5 M292.9,179.4 L310.7,210.3 M289.8,181.2 L307.6,212.0 M286.8,182.9 L304.6,213.8 M283.8,184.7 L301.6,215.5 M280.7,186.4 L298.5,217.3 M277.7,188.2 L295.5,219.0" stroke="#000" stroke-width="1.6" fill="none"/>
<path d="M294,191 L300,187 Q307,186 309,192 L309,199 L300,203 Q294,201 294,196 Z" fill="none" stroke="#000" stroke-width="1.4" stroke-linejoin="round"/>
<clipPath id="c17"><path d="M294.2,236.6 A21,21 0 0 1 319.8,203.4 L329.8,211.1 A21,21 0 0 0 304.2,244.3 Z"/></clipPath>
<path d="M294.2,236.6 A21,21 0 0 1 319.8,203.4 L329.8,211.1 A21,21 0 0 0 304.2,244.3 Z" fill="#fff"/>
<path clip-path="url(#c17)" d="M329.7,166.0 L369.9,241.5 M325.6,168.1 L365.8,243.7 M321.6,170.3 L361.8,245.9 M317.5,172.5 L357.7,248.0 M313.4,174.6 L353.6,250.2 M309.4,176.8 L349.6,252.3 M305.3,178.9 L345.5,254.5 M301.3,181.1 L341.4,256.7 M297.2,183.3 L337.4,258.8 M293.1,185.4 L333.3,261.0 M289.1,187.6 L329.3,263.1 M285.0,189.7 L325.2,265.3 M281.0,191.9 L321.1,267.5 M276.9,194.0 L317.1,269.6 M272.8,196.2 L313.0,271.8 M268.8,198.4 L309.0,273.9 M264.7,200.5 L304.9,276.1 M260.6,202.7 L300.8,278.3 M256.6,204.8 L296.8,280.4" stroke="#000" stroke-width="2.2" fill="none"/>
<path d="M294.2,236.6 A21,21 0 0 1 319.8,203.4 L329.8,211.1 A21,21 0 0 0 304.2,244.3 Z" fill="none" stroke="#000" stroke-width="1.6" stroke-linejoin="round"/>
<circle cx="317" cy="227.7" r="21" fill="#fff" stroke="#000" stroke-width="1.7"/>
<circle cx="317" cy="227.7" r="18.3" fill="#000"/>
<circle cx="317" cy="227.7" r="6.2" fill="#fff"/>
<line x1="313.59" y1="232.66" x2="320.41" y2="222.73999999999998" stroke="#000" stroke-width="1.6"/>
<clipPath id="c18"><path d="M99.3,121 L336.4,73.4 Q348,75 353,84 Q360,94 363,105 Q366,117 365.5,128 Q364,142 359,155 Q354,165 347.7,169 L266.4,175 L130.3,187 Q134,170 133.7,152 Q132,132 123.5,118 Z"/></clipPath>
<path d="M99.3,121 L336.4,73.4 Q348,75 353,84 Q360,94 363,105 Q366,117 365.5,128 Q364,142 359,155 Q354,165 347.7,169 L266.4,175 L130.3,187 Q134,170 133.7,152 Q132,132 123.5,118 Z" fill="#fff"/>
<path clip-path="url(#c18)" d="M100.0,127.0 L289.2,94.8 M294.0,94.0 L343.0,85.7 M347.1,85.0 L366.0,81.8 M100.0,133.0 L202.0,116.7 M205.3,116.2 L286.6,103.2 M293.1,102.2 L341.4,94.5 M346.8,93.6 L366.0,90.5 M100.0,139.0 L287.2,111.1 M292.4,110.3 L366.0,99.3 M100.0,145.0 L291.8,118.4 M297.8,117.6 L347.9,110.6 M351.7,110.1 L366.0,108.1 M100.0,151.0 L247.9,132.0 M251.7,131.5 L287.4,126.9 M292.0,126.4 L366.0,116.9 M100.0,157.0 L157.5,150.2 M160.8,149.8 L292.4,134.3 M298.3,133.6 L345.2,128.1 M349.5,127.6 L366.0,125.6 M100.0,163.0 L186.0,153.8 M192.1,153.1 L289.1,142.7 M296.1,141.9 L366.0,134.4 M100.0,169.0 L255.0,154.0 M260.9,153.4 L288.4,150.7 M295.3,150.0 L349.7,144.8 M353.1,144.4 L366.0,143.2 M100.0,175.0 L208.7,165.6 M211.8,165.3 L290.2,158.5 M298.0,157.8 L366.0,152.0 M100.0,181.0 L293.6,166.2 M300.5,165.7 L345.4,162.3 M350.2,161.9 L366.0,160.7 M124,122.5 L300,85 M306,84 L337,77.5" stroke="#000" stroke-width="1.45" fill="none"/>
<path d="M99.3,121 L336.4,73.4 Q348,75 353,84 Q360,94 363,105 Q366,117 365.5,128 Q364,142 359,155 Q354,165 347.7,169 L266.4,175 L130.3,187 Q134,170 133.7,152 Q132,132 123.5,118 Z" fill="none" stroke="#000" stroke-width="1.8" stroke-linejoin="round" stroke-linecap="round"/>
<path clip-path="url(#c18)" d="M315.8,77.4 Q340,110 321.3,171.5 L325,171 Q344.5,110 319.5,76.6 Z" fill="#fff"/>
<path d="M315.8,77.4 Q340,110 321.3,171.5" fill="none" stroke="#000" stroke-width="1.5" stroke-linejoin="round" stroke-linecap="round"/>
<path d="M319.5,76.6 Q344.5,110 325,171" fill="none" stroke="#000" stroke-width="1.5" stroke-linejoin="round" stroke-linecap="round"/>
<clipPath id="c19"><path d="M76.3,109 L255.8,75 L277,82 L99.3,121 Z"/></clipPath>
<path d="M76.3,109 L255.8,75 L277,82 L99.3,121 Z" fill="#fff"/>
<path clip-path="url(#c19)" d="M149.9,-55.5 L330.5,70.9 M146.5,-50.6 L327.1,75.8 M143.0,-45.7 L323.6,80.8 M139.6,-40.8 L320.2,85.7 M136.2,-35.9 L316.8,90.6 M132.7,-30.9 L313.3,95.5 M129.3,-26.0 L309.9,100.4 M125.8,-21.1 L306.4,105.3 M122.4,-16.2 L303.0,110.2 M119.0,-11.3 L299.5,115.2 M115.5,-6.4 L296.1,120.1 M112.1,-1.5 L292.7,125.0 M108.6,3.5 L289.2,129.9 M105.2,8.4 L285.8,134.8 M101.7,13.3 L282.3,139.7 M98.3,18.2 L278.9,144.7 M94.9,23.1 L275.5,149.6 M91.4,28.0 L272.0,154.5 M88.0,32.9 L268.6,159.4 M84.5,37.9 L265.1,164.3 M81.1,42.8 L261.7,169.2 M77.7,47.7 L258.3,174.1 M74.2,52.6 L254.8,179.1 M70.8,57.5 L251.4,184.0 M67.3,62.4 L247.9,188.9 M63.9,67.4 L244.5,193.8 M60.5,72.3 L241.0,198.7 M57.0,77.2 L237.6,203.6 M53.6,82.1 L234.2,208.5 M50.1,87.0 L230.7,213.5 M46.7,91.9 L227.3,218.4 M43.2,96.8 L223.8,223.3 M39.8,101.8 L220.4,228.2 M36.4,106.7 L217.0,233.1 M32.9,111.6 L213.5,238.0 M29.5,116.5 L210.1,243.0 M26.0,121.4 L206.6,247.9" stroke="#000" stroke-width="1.9" fill="none"/>
<path d="M76.3,109 L255.8,75 L277,82 L99.3,121 Z" fill="none" stroke="#000" stroke-width="1.6" stroke-linejoin="round"/>
<line x1="99.3" y1="121" x2="277" y2="82" stroke="#000" stroke-width="1.8" stroke-linecap="round"/>
<path d="M280.3,83 L286.6,72.6 L312.7,67.9 L318.2,75.8 Z" fill="#000"/>
<path d="M99.3,121 L123.5,118 Q132,132 133.7,152 Q134,170 130.3,187 L100,190 Q113,170 113,152 Q112,132 99.3,121 Z" fill="#fff"/>
<clipPath id="c20"><path d="M99.3,121 L123.5,118 Q132,132 133.7,152 Q134,170 130.3,187 L100,190 Q113,170 113,152 Q112,132 99.3,121 Z"/></clipPath>
<path clip-path="url(#c20)" d="M96,121.0 L136,118.5 M96,127.0 L136,124.5 M96,133.0 L136,130.5 M96,139.0 L136,136.5 M96,145.0 L136,142.5 M96,151.0 L136,148.5 M96,157.0 L136,154.5 M96,163.0 L136,160.5 M96,169.0 L136,166.5 M96,175.0 L136,172.5 M96,181.0 L136,178.5 M96,187.0 L136,184.5" stroke="#000" stroke-width="2.8" fill="none"/>
<path d="M123.5,118 Q132,132 133.7,152 Q134,170 130.3,187" fill="none" stroke="#000" stroke-width="1.8" stroke-linejoin="round" stroke-linecap="round"/>
<path d="M73.8,110.2 L99.3,121 Q112,132 113,152 Q113,170 100,190 L88,192 Q76,186 72,170 Q68,150 70.5,140 Z" fill="#000"/>
<path d="M78,136 Q83,126 96,124" fill="none" stroke="#fff" stroke-width="2"/>
<path d="M92,143 Q99.5,156 93,170 Q96,156 92,143 Z" fill="#fff" stroke="#fff" stroke-width="2"/>
<circle cx="83" cy="133" r="0.9" fill="#fff"/>
<circle cx="88" cy="136" r="0.9" fill="#fff"/>
<circle cx="90" cy="131" r="0.9" fill="#fff"/>
<circle cx="95" cy="137" r="0.9" fill="#fff"/>
<circle cx="100" cy="140" r="0.9" fill="#fff"/>
<circle cx="97" cy="172" r="0.9" fill="#fff"/>
<circle cx="84" cy="184" r="0.9" fill="#fff"/>
<circle cx="104" cy="160" r="0.9" fill="#fff"/>
<path d="M75,139 L89,139 Q92,158.0 89,177 L75,177 Q72,158.0 75,139 Z" fill="#fff"/>
<clipPath id="c21"><path d="M75,139 L89,139 Q92,158.0 89,177 L75,177 Q72,158.0 75,139 Z"/></clipPath>
<path clip-path="url(#c21)" d="M72,140.5 L92,140.5 M72,145.2 L92,145.2 M72,149.9 L92,149.9 M72,154.6 L92,154.6 M72,159.3 L92,159.3 M72,164.0 L92,164.0 M72,168.7 L92,168.7 M72,173.4 L92,173.4" stroke="#000" stroke-width="1.9" fill="none"/>
<path d="M75,139 L89,139 Q92,158.0 89,177 L75,177 Q72,158.0 75,139 Z" fill="none" stroke="#000" stroke-width="2.2"/>
<path d="M64.5,143.5 L76.5,143.5 Q79.5,159.5 76.5,175.5 L64.5,175.5 Q61.5,159.5 64.5,143.5 Z" fill="#fff"/>
<clipPath id="c22"><path d="M64.5,143.5 L76.5,143.5 Q79.5,159.5 76.5,175.5 L64.5,175.5 Q61.5,159.5 64.5,143.5 Z"/></clipPath>
<path clip-path="url(#c22)" d="M61.5,145.0 L79.5,145.0 M61.5,149.6 L79.5,149.6 M61.5,154.2 L79.5,154.2 M61.5,158.8 L79.5,158.8 M61.5,163.4 L79.5,163.4 M61.5,168.0 L79.5,168.0 M61.5,172.6 L79.5,172.6" stroke="#000" stroke-width="1.9" fill="none"/>
<path d="M64.5,143.5 L76.5,143.5 Q79.5,159.5 76.5,175.5 L64.5,175.5 Q61.5,159.5 64.5,143.5 Z" fill="none" stroke="#000" stroke-width="2.2"/>
<path d="M67,146 Q62,143 57,147 Q52.5,153 52.8,160 Q53,168 57.5,173.5 Q62,177 67,174" fill="none" stroke="#000" stroke-width="3"/>
<path d="M66,150 Q60,149 58.5,156 Q58,163 60,168 Q62.5,171 66,170" fill="none" stroke="#000" stroke-width="1.8"/>
<clipPath id="c23"><path d="M66.5,151 Q62,152 61,160 Q61.5,168 66.5,169 L69,169 L69,151 Z"/></clipPath>
<path d="M66.5,151 Q62,152 61,160 Q61.5,168 66.5,169 L69,169 L69,151 Z" fill="#fff"/>
<path clip-path="url(#c23)" d="M69.1,137.0 L88.0,164.1 M66.8,138.6 L85.7,165.7 M64.5,140.2 L83.4,167.3 M62.2,141.8 L81.1,168.9 M59.9,143.4 L78.8,170.5 M57.6,145.0 L76.6,172.1 M55.3,146.6 L74.3,173.7 M53.0,148.2 L72.0,175.3 M50.7,149.8 L69.7,176.9 M48.4,151.4 L67.4,178.5 M46.1,153.0 L65.1,180.1 M43.8,154.6 L62.8,181.7" stroke="#000" stroke-width="1.3" fill="none"/>
<path d="M128.5,152.4 L162.4,146.7 M179.3,145.3 L227.3,136.8 M252.8,132.6 L292.3,127 M303.6,124.1 L348.8,118.5" fill="none" stroke="#000" stroke-width="2.8" stroke-linejoin="round" stroke-linecap="round"/>
<clipPath id="c24"><path d="M228.4,170.8 A18,18 0 0 1 251.6,143.2 L260.3,150.5 A18,18 0 0 0 237.1,178.1 Z"/></clipPath>
<path d="M228.4,170.8 A18,18 0 0 1 251.6,143.2 L260.3,150.5 A18,18 0 0 0 237.1,178.1 Z" fill="#fff"/>
<path clip-path="url(#c24)" d="M260.0,109.3 L295.7,176.3 M256.0,111.5 L291.6,178.5 M251.9,113.7 L287.5,180.7 M247.9,115.8 L283.5,182.8 M243.8,118.0 L279.4,185.0 M239.7,120.1 L275.4,187.1 M235.7,122.3 L271.3,189.3 M231.6,124.4 L267.2,191.5 M227.5,126.6 L263.2,193.6 M223.5,128.8 L259.1,195.8 M219.4,130.9 L255.1,197.9 M215.4,133.1 L251.0,200.1 M211.3,135.2 L246.9,202.3 M207.2,137.4 L242.9,204.4 M203.2,139.6 L238.8,206.6 M199.1,141.7 L234.7,208.7 M195.1,143.9 L230.7,210.9" stroke="#000" stroke-width="2.2" fill="none"/>
<path d="M228.4,170.8 A18,18 0 0 1 251.6,143.2 L260.3,150.5 A18,18 0 0 0 237.1,178.1 Z" fill="none" stroke="#000" stroke-width="1.6" stroke-linejoin="round"/>
<circle cx="248.7" cy="164.3" r="18" fill="#fff" stroke="#000" stroke-width="1.7"/>
<circle cx="248.7" cy="164.3" r="15.3" fill="#000"/>
<circle cx="248.7" cy="164.3" r="6.3" fill="#fff"/>
<line x1="245.23499999999999" y1="169.34" x2="252.165" y2="159.26000000000002" stroke="#000" stroke-width="1.6"/>
<path d="M192.1,20.5 L193.7,143" fill="none" stroke="#000" stroke-width="2.2" stroke-linejoin="round" stroke-linecap="round"/>
<path d="M192.6,161 L194.8,215" fill="none" stroke="#000" stroke-width="2.5" stroke-linejoin="round" stroke-linecap="round"/>
<path d="M195.3,272 L197,383 M198.6,383 L197.2,420.5" fill="none" stroke="#000" stroke-width="2.0" stroke-linejoin="round" stroke-linecap="round"/>
<path d="M237,182 L236,207" fill="none" stroke="#000" stroke-width="2.0" stroke-linejoin="round" stroke-linecap="round"/>
<path d="M236.5,238 L237.5,264 M239,266 L239.2,301.2" fill="none" stroke="#000" stroke-width="2.0" stroke-linejoin="round" stroke-linecap="round"/>
<path d="M9.5,132 L70.5,124.7" fill="none" stroke="#000" stroke-width="2.6" stroke-linejoin="round" stroke-linecap="round"/>
<path d="M5.4,168.9 L52.8,161.3" fill="none" stroke="#000" stroke-width="2.6" stroke-linejoin="round" stroke-linecap="round"/>
<path d="M354,85.5 L410,78.3" fill="none" stroke="#000" stroke-width="2.7" stroke-linejoin="round" stroke-linecap="round"/>
<path d="M365.5,117 L409.5,109.5" fill="none" stroke="#000" stroke-width="2.7" stroke-linejoin="round" stroke-linecap="round"/>
<line x1="61" y1="103" x2="65" y2="141" stroke="#000" stroke-width="1.4" stroke-linecap="round"/>
<line x1="133.3" y1="65.8" x2="135.3" y2="98" stroke="#000" stroke-width="1.4" stroke-linecap="round"/>
<line x1="224.7" y1="60" x2="231.6" y2="137" stroke="#000" stroke-width="1.4" stroke-linecap="round"/>
<line x1="299.6" y1="59.1" x2="300.3" y2="69.3" stroke="#000" stroke-width="1.4" stroke-linecap="round"/>
<line x1="368" y1="58.5" x2="359.5" y2="96" stroke="#000" stroke-width="1.4" stroke-linecap="round"/>
<line x1="305" y1="194" x2="371" y2="182" stroke="#000" stroke-width="1.4" stroke-linecap="round"/>
<line x1="335.7" y1="229.5" x2="369.5" y2="229.5" stroke="#000" stroke-width="1.4" stroke-linecap="round"/>
<line x1="263" y1="239" x2="366" y2="266.7" stroke="#000" stroke-width="1.4" stroke-linecap="round"/>
<line x1="291.7" y1="283.7" x2="364.4" y2="300.6" stroke="#000" stroke-width="1.4" stroke-linecap="round"/>
<line x1="303.5" y1="356.4" x2="362.7" y2="351.4" stroke="#000" stroke-width="1.4" stroke-linecap="round"/>
<line x1="79" y1="241" x2="125" y2="244.5" stroke="#000" stroke-width="1.4" stroke-linecap="round"/>
<line x1="76" y1="288" x2="91.4" y2="287" stroke="#000" stroke-width="1.4" stroke-linecap="round"/>
<path d="M 53.50,79.50 L 63.16,79.50 L 56.13,87.82 Q 62.04,87.82 60.93,93.36 Q 59.74,99.30 54.37,99.30 Q 50.29,99.30 49.59,96.33" fill="none" stroke="#000" stroke-width="2.0" stroke-linecap="round" stroke-linejoin="round"/>
<path d="M 129.94,63.30 L 133.90,43.50 L 124.27,56.96 L 133.91,56.96" fill="none" stroke="#000" stroke-width="1.9" stroke-linecap="round" stroke-linejoin="round"/>
<path d="M 234.22,38.00 L 225.50,38.00 L 222.23,46.55 Q 225.16,44.84 227.72,44.84 Q 233.30,44.84 231.96,50.92 Q 230.62,57.00 224.81,57.00 Q 220.74,57.00 219.59,54.34" fill="none" stroke="#000" stroke-width="1.9" stroke-linecap="round" stroke-linejoin="round"/>
<path d="M 305.30,38.69 Q 304.14,36.80 301.89,36.80 Q 297.38,36.80 295.49,46.25 L 294.73,50.03 Q 293.60,55.70 298.11,55.70 Q 302.62,55.70 303.68,50.41 Q 304.77,44.93 300.26,44.93 Q 295.75,44.93 294.73,50.03" fill="none" stroke="#000" stroke-width="1.9" stroke-linecap="round" stroke-linejoin="round"/>
<path d="M 368.93,35.40 L 376.20,35.40 Q 371.32,43.28 366.55,55.10" fill="none" stroke="#000" stroke-width="1.9" stroke-linecap="round" stroke-linejoin="round"/>
<path d="M 384.22,174.72 Q 380.91,174.72 381.58,171.36 Q 382.25,168.00 385.56,168.00 Q 388.87,168.00 388.20,171.36 Q 387.53,174.72 384.22,174.72 Q 380.28,174.72 379.49,178.66 Q 378.70,182.60 382.64,182.60 Q 386.58,182.60 387.37,178.66 Q 388.16,174.72 384.22,174.72 Z" fill="none" stroke="#000" stroke-width="1.9" stroke-linecap="round" stroke-linejoin="round"/>
<path d="M 374.00,232.91 Q 375.08,234.60 377.16,234.60 Q 381.32,234.60 383.01,226.15 L 383.69,222.77 Q 384.70,217.70 380.54,217.70 Q 376.38,217.70 375.43,222.43 Q 374.45,227.33 378.61,227.33 Q 382.77,227.33 383.69,222.77" fill="none" stroke="#000" stroke-width="1.9" stroke-linecap="round" stroke-linejoin="round"/>
<path d="M 370.11,270.44 L 375.28,265.00 L 371.88,282.00" fill="none" stroke="#000" stroke-width="1.9" stroke-linecap="round" stroke-linejoin="round"/>
<path d="M 386.95,265.00 Q 391.50,265.00 390.48,270.10 L 389.12,276.90 Q 388.10,282.00 383.55,282.00 Q 379.00,282.00 380.02,276.90 L 381.38,270.10 Q 382.40,265.00 386.95,265.00 Z" fill="none" stroke="#000" stroke-width="1.9" stroke-linecap="round" stroke-linejoin="round"/>
<path d="M 370.32,304.92 L 374.90,299.00 L 371.20,317.50" fill="none" stroke="#000" stroke-width="1.9" stroke-linecap="round" stroke-linejoin="round"/>
<path d="M 379.02,304.92 L 384.02,299.00 L 380.32,317.50" fill="none" stroke="#000" stroke-width="1.9" stroke-linecap="round" stroke-linejoin="round"/>
<path d="M 366.70,344.91 L 371.37,339.50 L 367.99,356.40" fill="none" stroke="#000" stroke-width="1.9" stroke-linecap="round" stroke-linejoin="round"/>
<path d="M 376.82,343.22 Q 378.28,339.50 381.89,339.50 Q 386.40,339.50 385.45,344.23 Q 384.78,347.61 380.56,350.65 L 374.00,356.40 L 383.02,356.40" fill="none" stroke="#000" stroke-width="1.9" stroke-linecap="round" stroke-linejoin="round"/>
<path d="M 66.08,232.53 Q 67.64,228.00 70.91,228.00 Q 75.00,228.00 73.85,233.77 Q 73.02,237.89 69.01,241.60 L 62.70,248.60 L 70.88,248.60" fill="none" stroke="#000" stroke-width="1.9" stroke-linecap="round" stroke-linejoin="round"/>
<path d="M 70.80,284.40 L 74.19,278.00 L 69.19,298.00" fill="none" stroke="#000" stroke-width="1.9" stroke-linecap="round" stroke-linejoin="round"/>
<path d="M 196.42,3.00 Q 200.00,3.00 198.85,6.84 L 197.31,11.96 Q 196.16,15.80 192.58,15.80 Q 189.00,15.80 190.15,11.96 L 191.69,6.84 Q 192.84,3.00 196.42,3.00 Z" fill="none" stroke="#000" stroke-width="1.9" stroke-linecap="round" stroke-linejoin="round"/>
<path d="M 199.90,426.00 Q 204.30,426.00 202.80,430.29 L 200.80,436.01 Q 199.30,440.30 194.90,440.30 Q 190.50,440.30 192.00,436.01 L 194.00,430.29 Q 195.50,426.00 199.90,426.00 Z" fill="none" stroke="#000" stroke-width="1.9" stroke-linecap="round" stroke-linejoin="round"/>
<path d="M12.2,111.0 L10.2,121.3 Q10.2,124.7 14.9,124.7 Q20.3,124.7 21.6,117.8 L23.0,111.0 M21.6,117.8 L20.7,122.6 Q20.9,124.7 23.1,124.0" fill="none" stroke="#000" stroke-width="2.0" stroke-linecap="round" stroke-linejoin="round"/>
<path d="M11.5,150.5 L12.5,161.3 L20.3,150.5" fill="none" stroke="#000" stroke-width="2.0" stroke-linecap="round" stroke-linejoin="round"/>
<path d="M394.8,62.0 L392.6,72.7 Q392.5,76.3 396.8,76.3 Q401.6,76.3 403.0,69.2 L404.5,62.0 M403.0,69.2 L402.0,74.2 Q402.2,76.3 404.2,75.6" fill="none" stroke="#000" stroke-width="2.0" stroke-linecap="round" stroke-linejoin="round"/>
<path d="M393.5,91.5 L394.5,108 L407,91.5" fill="none" stroke="#000" stroke-width="2.0" stroke-linecap="round" stroke-linejoin="round"/>
<path d="M218.7,189.0 L216.3,201.0 Q216.2,205.0 220.8,205.0 Q226.1,205.0 227.7,197.0 L229.3,189.0 M227.7,197.0 L226.6,202.6 Q226.8,205.0 229.0,204.2" fill="none" stroke="#000" stroke-width="2.0" stroke-linecap="round" stroke-linejoin="round"/>
<path d="M 233.50,201.52 L 238.28,198.00 L 236.08,209.00" fill="none" stroke="#000" stroke-width="1.8" stroke-linecap="round" stroke-linejoin="round"/>
<path d="M220.0,271.8 L217.8,283.2 Q217.6,287.0 221.8,287.0 Q226.6,287.0 228.1,279.4 L229.6,271.8 M228.1,279.4 L227.0,284.7 Q227.2,287.0 229.1,286.2" fill="none" stroke="#000" stroke-width="2.0" stroke-linecap="round" stroke-linejoin="round"/>
<path d="M 232.28,284.01 L 236.81,281.00 L 234.93,290.40" fill="none" stroke="#000" stroke-width="1.8" stroke-linecap="round" stroke-linejoin="round"/>
</svg></body></html>
